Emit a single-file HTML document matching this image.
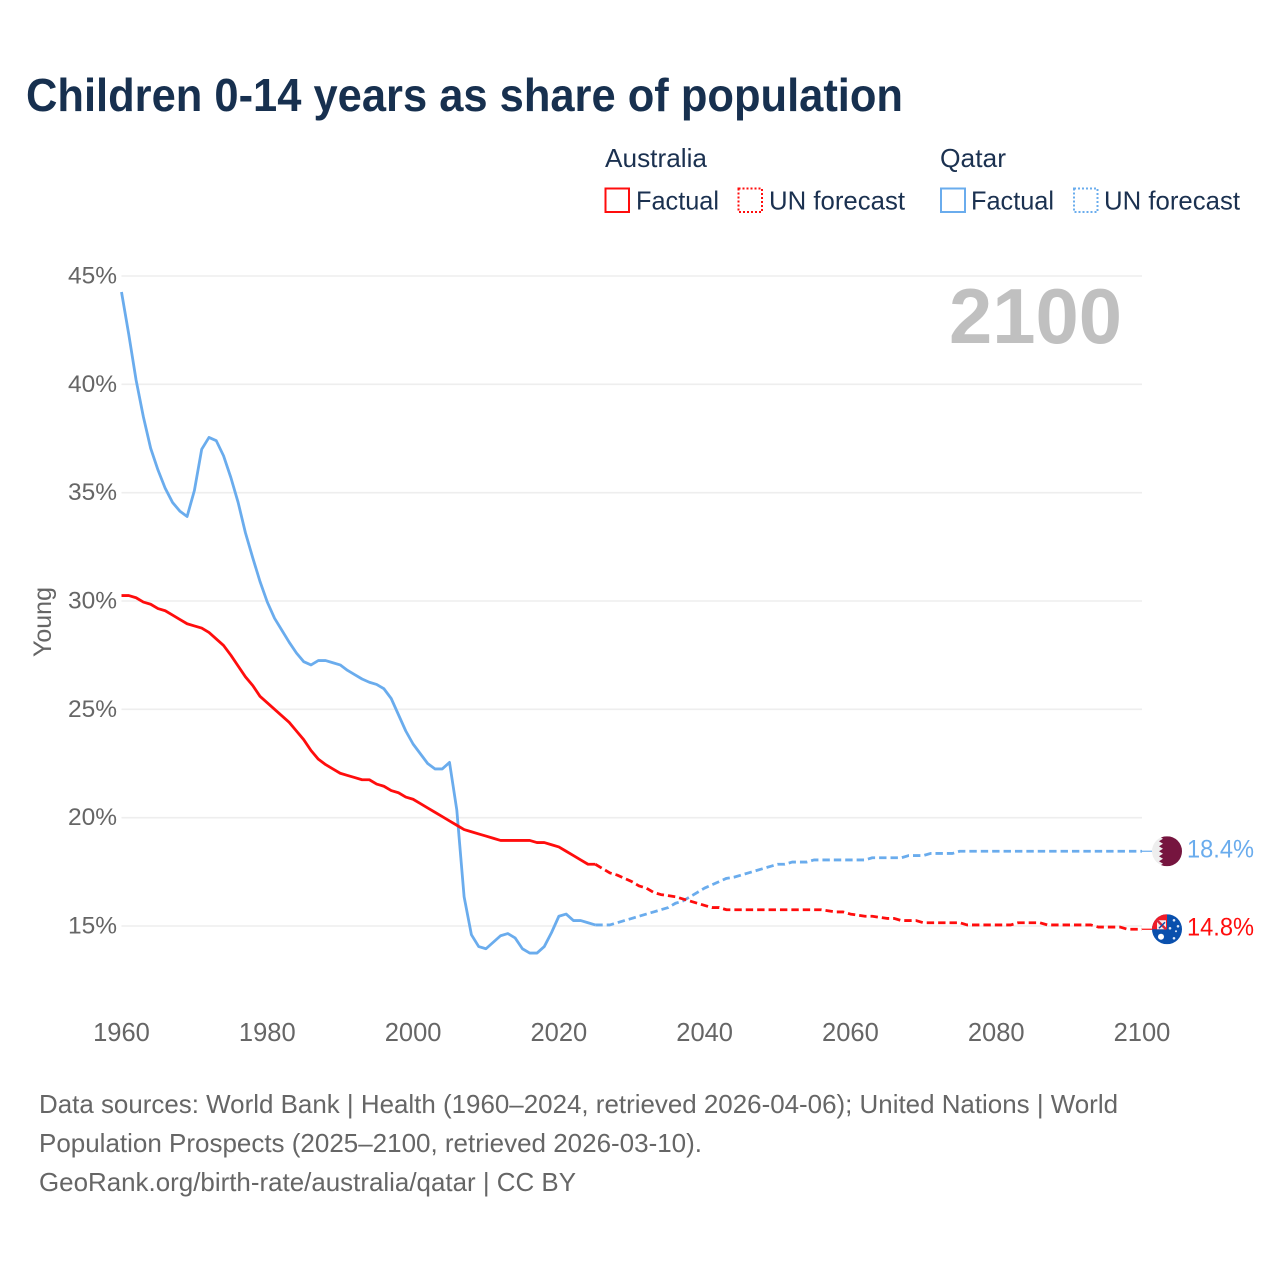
<!DOCTYPE html>
<html lang="en">
<head>
<meta charset="utf-8">
<title>Children 0-14 years as share of population</title>
<style>
html,body{margin:0;padding:0;background:#fff;}
svg{display:block;}
text{font-family:"Liberation Sans",sans-serif;}
</style>
</head>
<body>
<svg id="chart" xmlns="http://www.w3.org/2000/svg" width="1280" height="1280" viewBox="0 0 1280 1280">
  <rect width="1280" height="1280" fill="#ffffff"/>
  <text x="26" y="111" font-size="46" font-weight="700" fill="#17304f" textLength="877" lengthAdjust="spacingAndGlyphs">Children 0-14 years as share of population</text>

  <g font-size="26" fill="#1b3150">
    <text x="605" y="167" textLength="102" lengthAdjust="spacingAndGlyphs">Australia</text>
    <text x="940" y="167" textLength="66" lengthAdjust="spacingAndGlyphs">Qatar</text>
    <g>
      <rect x="605.5" y="188.5" width="23.5" height="23.5" fill="none" stroke="#ff0d0d" stroke-width="2"/>
      <text x="636" y="209.5" textLength="83" lengthAdjust="spacingAndGlyphs">Factual</text>
    </g>
    <g>
      <rect x="738.5" y="188.5" width="23.5" height="23.5" fill="none" stroke="#ff0d0d" stroke-width="2" stroke-dasharray="2 2"/>
      <text x="769" y="209.5" textLength="136" lengthAdjust="spacingAndGlyphs">UN forecast</text>
    </g>
    <g>
      <rect x="941" y="188.5" width="24" height="23.5" fill="none" stroke="#6aaced" stroke-width="2"/>
      <text x="971" y="209.5" textLength="83" lengthAdjust="spacingAndGlyphs">Factual</text>
    </g>
    <g>
      <rect x="1074" y="188.5" width="23.5" height="23.5" fill="none" stroke="#6aaced" stroke-width="2" stroke-dasharray="2 2"/>
      <text x="1104" y="209.5" textLength="136" lengthAdjust="spacingAndGlyphs">UN forecast</text>
    </g>
  </g>

  <g id="grid"></g>
  <g id="yticks"></g>
  <g id="xticks"></g>
  <text transform="translate(51,622) rotate(-90)" text-anchor="middle" font-size="25" fill="#666666" textLength="70" lengthAdjust="spacingAndGlyphs">Young</text>
  <text x="949" y="343" font-size="78" font-weight="700" fill="#c0c0c0" textLength="173" lengthAdjust="spacingAndGlyphs">2100</text>

  <g id="series"></g>

  <defs>
    <clipPath id="flag-clip"><circle cx="0" cy="0" r="15"/></clipPath>
  </defs>

  <g id="flag-qatar">
    <g clip-path="url(#flag-clip)">
      <rect x="-15" y="-15" width="30" height="30" fill="#eeeeee"/>
      <polygon fill="#76153f" points="15,-15 -8,-15 -4,-12.5 -8,-10 -4,-7.5 -8,-5 -4,-2.5 -8,0 -4,2.5 -8,5 -4,7.5 -8,10 -4,12.5 -8,15 15,15"/>
    </g>
  </g>
  <g id="flag-australia">
    <g clip-path="url(#flag-clip)">
      <rect x="-15" y="-15" width="30" height="30" fill="#0a50ad"/>
      <rect x="-15" y="-15" width="15" height="15" fill="#f01c28"/>
      <rect x="-10" y="-9" width="9" height="9" fill="#f6e9ec"/>
      <line x1="-10" y1="-9" x2="-1" y2="0" stroke="#d8283c" stroke-width="2.5"/>
      <line x1="-8" y1="-1" x2="-2" y2="-7" stroke="#0a50ad" stroke-width="1.5"/>
      <circle cx="-6" cy="7.5" r="3" fill="#fff"/>
      <circle cx="7" cy="-9" r="1.3" fill="#dfe9f7"/>
      <circle cx="11" cy="-3" r="1.3" fill="#dfe9f7"/>
      <circle cx="3" cy="-1" r="1.3" fill="#dfe9f7"/>
      <circle cx="7" cy="9" r="1.3" fill="#dfe9f7"/>
      <circle cx="9" cy="2" r="1" fill="#dfe9f7"/>
    </g>
  </g>
  <text id="label-qatar" x="1187" font-size="25" fill="#6aaced" textLength="67" lengthAdjust="spacingAndGlyphs">18.4%</text>
  <text id="label-australia" x="1187" font-size="25" fill="#ff0d0d" textLength="67" lengthAdjust="spacingAndGlyphs">14.8%</text>

  <g font-size="26" fill="#666666">
    <text x="39" y="1113" textLength="1079" lengthAdjust="spacingAndGlyphs">Data sources: World Bank | Health (1960–2024, retrieved 2026-04-06); United Nations | World</text>
    <text x="39" y="1152" textLength="663" lengthAdjust="spacingAndGlyphs">Population Prospects (2025–2100, retrieved 2026-03-10).</text>
    <text x="39" y="1191" textLength="537" lengthAdjust="spacingAndGlyphs">GeoRank.org/birth-rate/australia/qatar | CC BY</text>
  </g>
</svg>
<script>
var yTickValues = [15, 20, 25, 30, 35, 40, 45];
var xTickYears = [1960, 1980, 2000, 2020, 2040, 2060, 2080, 2100];
var factualStartYear = 1960;
var forecastStartYear = 2025;

var australiaFactual = [
  30.25,30.25,30.15,29.95,29.85,29.65,29.55,29.35,29.15,28.95,
  28.85,28.75,28.55,28.25,27.95,27.5,27.0,26.5,26.1,25.6,
  25.3,25.0,24.7,24.4,24.0,23.6,23.1,22.7,22.45,22.25,
  22.05,21.95,21.85,21.75,21.75,21.55,21.45,21.25,21.15,20.95,
  20.85,20.65,20.45,20.25,20.05,19.85,19.65,19.45,19.35,19.25,
  19.15,19.05,18.95,18.95,18.95,18.95,18.95,18.85,18.85,18.75,
  18.65,18.45,18.25,18.05,17.85,17.85
];
var australiaForecast = [
  17.85,17.65,17.45,17.35,17.2,
  17.05,16.85,16.75,16.55,16.45,16.4,16.35,16.25,16.15,16.05,
  15.95,15.85,15.85,15.75,15.75,15.75,15.75,15.75,15.75,15.75,
  15.75,15.75,15.75,15.75,15.75,15.75,15.75,15.7,15.65,15.65,
  15.55,15.5,15.45,15.45,15.4,15.35,15.35,15.25,15.25,15.25,
  15.15,15.15,15.15,15.15,15.15,15.15,15.05,15.05,15.05,15.05,
  15.05,15.05,15.05,15.15,15.15,15.15,15.15,15.05,15.05,15.05,
  15.05,15.05,15.05,15.05,14.95,14.95,14.95,14.95,14.85,14.85,
  14.85
];
var qatarFactual = [
  44.26,42.3,40.2,38.5,37.05,36.05,35.2,34.55,34.15,33.9,
  35.1,37.0,37.55,37.4,36.7,35.7,34.55,33.15,32.0,30.9,
  29.95,29.2,28.65,28.1,27.6,27.2,27.05,27.25,27.25,27.15,
  27.05,26.8,26.6,26.4,26.25,26.15,25.95,25.5,24.75,24.0,
  23.4,22.95,22.5,22.25,22.25,22.55,20.35,16.35,14.6,14.05,
  13.95,14.25,14.55,14.65,14.45,13.95,13.75,13.75,14.05,14.7,
  15.45,15.55,15.25,15.25,15.15,15.05
];
var qatarForecast = [
  15.05,15.05,15.05,15.15,15.25,
  15.35,15.45,15.55,15.65,15.75,15.85,16.05,16.15,16.35,16.55,
  16.75,16.9,17.05,17.2,17.25,17.35,17.45,17.55,17.65,17.75,
  17.85,17.85,17.95,17.95,17.95,18.05,18.05,18.05,18.05,18.05,
  18.05,18.05,18.05,18.15,18.15,18.15,18.15,18.15,18.25,18.25,
  18.25,18.35,18.35,18.35,18.35,18.45,18.45,18.45,18.45,18.45,
  18.45,18.45,18.45,18.45,18.45,18.45,18.45,18.45,18.45,18.45,
  18.45,18.45,18.45,18.45,18.45,18.45,18.45,18.45,18.45,18.45,
  18.45
];

var NS = 'http://www.w3.org/2000/svg';
var RED = '#ff0d0d';
var BLUE = '#6aaced';
var lastYear = 2100;

function xScale(year) { return 121.5 + (year - 1960) * (1142 - 121.5) / 140; }
function yScale(v) { return 926 - (v - 15) * (926 - 276) / 30; }

function linePoints(values, startYear) {
  return values.map(function (v, i) {
    return xScale(startYear + i).toFixed(2) + ',' + yScale(v).toFixed(2);
  }).join(' ');
}

var gridLayer = document.getElementById('grid');
var yLayer = document.getElementById('yticks');
var xLayer = document.getElementById('xticks');
var seriesLayer = document.getElementById('series');

yTickValues.forEach(function (v) {
  var line = document.createElementNS(NS, 'line');
  
  
  line.setAttribute('x1', xScale(1960));
  line.setAttribute('x2', xScale(2100));
  line.setAttribute('y1', yScale(v));
  line.setAttribute('y2', yScale(v));
  line.setAttribute('stroke', '#eeeeee');
  line.setAttribute('stroke-width', '1.6');
  gridLayer.appendChild(line);

  var label = document.createElementNS(NS, 'text');
  
  
  label.setAttribute('x', 117);
  label.setAttribute('y', yScale(v) + 7.5);
  label.setAttribute('text-anchor', 'end');
  label.setAttribute('font-size', '24.5');
  label.setAttribute('fill', '#666666');
  label.textContent = v + '%';
  yLayer.appendChild(label);
});

xTickYears.forEach(function (yr) {
  var label = document.createElementNS(NS, 'text');
  
  
  label.setAttribute('x', xScale(yr));
  label.setAttribute('y', 1041);
  label.setAttribute('text-anchor', 'middle');
  label.setAttribute('font-size', '25.5');
  label.setAttribute('fill', '#666666');
  label.textContent = yr;
  xLayer.appendChild(label);
});

function drawLine(values, startYear, color, dashed, name) {
  var pl = document.createElementNS(NS, 'polyline');
  
  
  pl.setAttribute('points', linePoints(values, startYear));
  pl.setAttribute('fill', 'none');
  pl.setAttribute('stroke', color);
  pl.setAttribute('stroke-width', '2.8');
  pl.setAttribute('stroke-linejoin', 'round');
  if (dashed) { pl.setAttribute('stroke-dasharray', '7.4 4'); }
  seriesLayer.appendChild(pl);
}

function drawConnector(lastValue, color, name) {
  var c = document.createElementNS(NS, 'line');
  
  
  c.setAttribute('x1', xScale(lastYear));
  c.setAttribute('x2', xScale(lastYear) + 10);
  c.setAttribute('y1', yScale(lastValue));
  c.setAttribute('y2', yScale(lastValue));
  c.setAttribute('stroke', color);
  c.setAttribute('stroke-width', '1.2');
  seriesLayer.appendChild(c);
}

drawLine(qatarFactual, factualStartYear, BLUE, false, 'line-qatar-factual');
drawLine(qatarForecast, forecastStartYear, BLUE, true, 'line-qatar-forecast');
drawLine(australiaFactual, factualStartYear, RED, false, 'line-australia-factual');
drawLine(australiaForecast, forecastStartYear, RED, true, 'line-australia-forecast');

var qatarLast = qatarForecast[qatarForecast.length - 1];
var australiaLast = australiaForecast[australiaForecast.length - 1];
drawConnector(qatarLast, BLUE, 'connector-qatar');
drawConnector(australiaLast, RED, 'connector-australia');

document.getElementById('flag-qatar').setAttribute('transform', 'translate(1167,' + yScale(qatarLast) + ')');
document.getElementById('flag-australia').setAttribute('transform', 'translate(1167,' + yScale(australiaLast) + ')');
document.getElementById('label-qatar').setAttribute('y', yScale(qatarLast) + 6);
document.getElementById('label-australia').setAttribute('y', yScale(australiaLast) + 6);
</script>
</body>
</html>
